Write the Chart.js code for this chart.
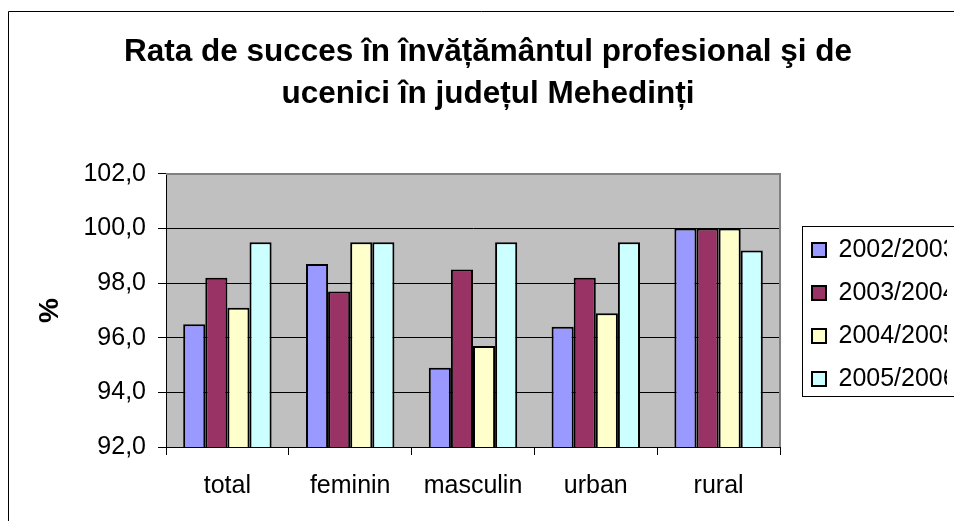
<!DOCTYPE html>
<html>
<head>
<meta charset="utf-8">
<script src="https://cdn.jsdelivr.net/npm/chart.js@4"></script>
<style>
  body { margin: 0; background: #fff; }
  #wrap { width: 954px; height: 521px; position: relative; }
</style>
</head>
<body>
<div id="wrap"><canvas id="chart"></canvas></div>
<script>
const categories = ["total", "feminin", "masculin", "urban", "rural"];
const years = ["2002/2003", "2003/2004", "2004/2005", "2005/2006"];
const y0203 = [96.5, 98.7, 94.9, 96.4, 100.0];
const y0304 = [98.2, 97.7, 98.5, 98.2, 100.0];
const y0405 = [97.1, 99.5, 95.7, 96.9, 100.0];
const y0506 = [99.5, 99.5, 99.5, 99.5, 99.2];
const yMin = 92;
const yMax = 102;
const yStep = 2;
const titleLines = [
  "Rata de succes în învățământul profesional şi de",
  "ucenici în județul Mehedinți"
];

const colors = ["#9999FF", "#993366", "#FFFFCC", "#CCFFFF"];
const seriesValues = [y0203, y0304, y0405, y0506];

Chart.defaults.font.family = "'Liberation Sans', Arial, sans-serif";
Chart.defaults.color = "#000";

// plot background, outer frame and legend box (Excel look)
const excelLook = {
  id: "excelLook",
  beforeDraw(chart) {
    const { ctx, chartArea: a } = chart;
    ctx.save();
    ctx.fillStyle = "#C0C0C0";
    ctx.fillRect(a.left, a.top, a.right - a.left, a.bottom - a.top);
    ctx.strokeStyle = "#000";
    ctx.lineWidth = 1;
    ctx.beginPath();
    ctx.moveTo(8.5, 530);
    ctx.lineTo(8.5, 11.5);
    ctx.lineTo(960, 11.5);
    ctx.stroke();
    ctx.restore();
  },
  afterDraw(chart) {
    const { ctx, chartArea: a, legend } = chart;
    ctx.save();
    ctx.strokeStyle = "#808080";
    ctx.lineWidth = 2;
    ctx.beginPath();
    ctx.moveTo(a.left, a.top);
    ctx.lineTo(a.right, a.top);
    ctx.lineTo(a.right, a.bottom);
    ctx.stroke();
    const hb = legend.legendHitBoxes;
    if (hb && hb.length) {
      const top = hb[0].top - 11;
      const bottom = hb[hb.length - 1].top + hb[hb.length - 1].height + 5;
      ctx.strokeStyle = "#000";
      ctx.lineWidth = 1;
      ctx.strokeRect(Math.round(legend.left + 8) + 0.5, Math.round(top) + 0.5, 400, Math.round(bottom - top));
    }
    ctx.restore();
  }
};

new Chart(document.getElementById("chart"), {
  type: "bar",
  data: {
    labels: categories,
    datasets: years.map((y, i) => ({
      label: y,
      data: seriesValues[i],
      backgroundColor: colors[i],
      borderColor: "#000",
      borderWidth: 2,
      borderSkipped: false,
      categoryPercentage: 0.72,
      barPercentage: 1.0
    }))
  },
  options: {
    responsive: true,
    maintainAspectRatio: false,
    animation: false,
    layout: { padding: { left: 29, right: 7, top: 0, bottom: 0 } },
    scales: {
      x: {
        grid: {
          display: true,
          drawOnChartArea: false,
          drawTicks: true,
          tickLength: 8,
          tickColor: "#000",
          offset: true
        },
        border: { display: true, color: "#000", width: 1 },
        ticks: { font: { size: 25 }, color: "#000", padding: 16 },
        afterFit(scale) { scale.height = 74; }
      },
      y: {
        min: yMin,
        max: yMax,
        ticks: {
          stepSize: yStep,
          font: { size: 25 },
          color: "#000",
          padding: 12,
          callback: (v) => v.toFixed(1).replace(".", ",")
        },
        grid: { color: "#000", tickColor: "#000", tickLength: 8 },
        border: { display: true, color: "#000", width: 1 },
        title: {
          display: true,
          text: "%",
          font: { size: 28, weight: "bold" },
          color: "#000",
          padding: { top: 4.2, bottom: 0 }
        },
        afterFit(scale) { scale.width = 137; }
      },
      gap: {
        type: "linear",
        position: "right",
        display: true,
        grid: { display: false },
        ticks: { display: false },
        border: { display: false },
        afterFit(scale) { scale.width = 14; }
      }
    },
    plugins: {
      title: {
        display: true,
        text: titleLines,
        color: "#000",
        font: { size: 31.5, weight: "bold", lineHeight: 1.333 },
        padding: { top: 31, bottom: 59 }
      },
      legend: {
        display: true,
        position: "right",
        fullSize: false,
        title: { display: true, text: " ", font: { size: 5, lineHeight: 1 }, padding: 1.5 },
        labels: {
          font: { size: 25 },
          color: "#000",
          boxWidth: 14,
          boxHeight: 14,
          padding: 18
        }
      },
      tooltip: { enabled: false }
    }
  },
  plugins: [excelLook]
});
</script>
</body>
</html>
